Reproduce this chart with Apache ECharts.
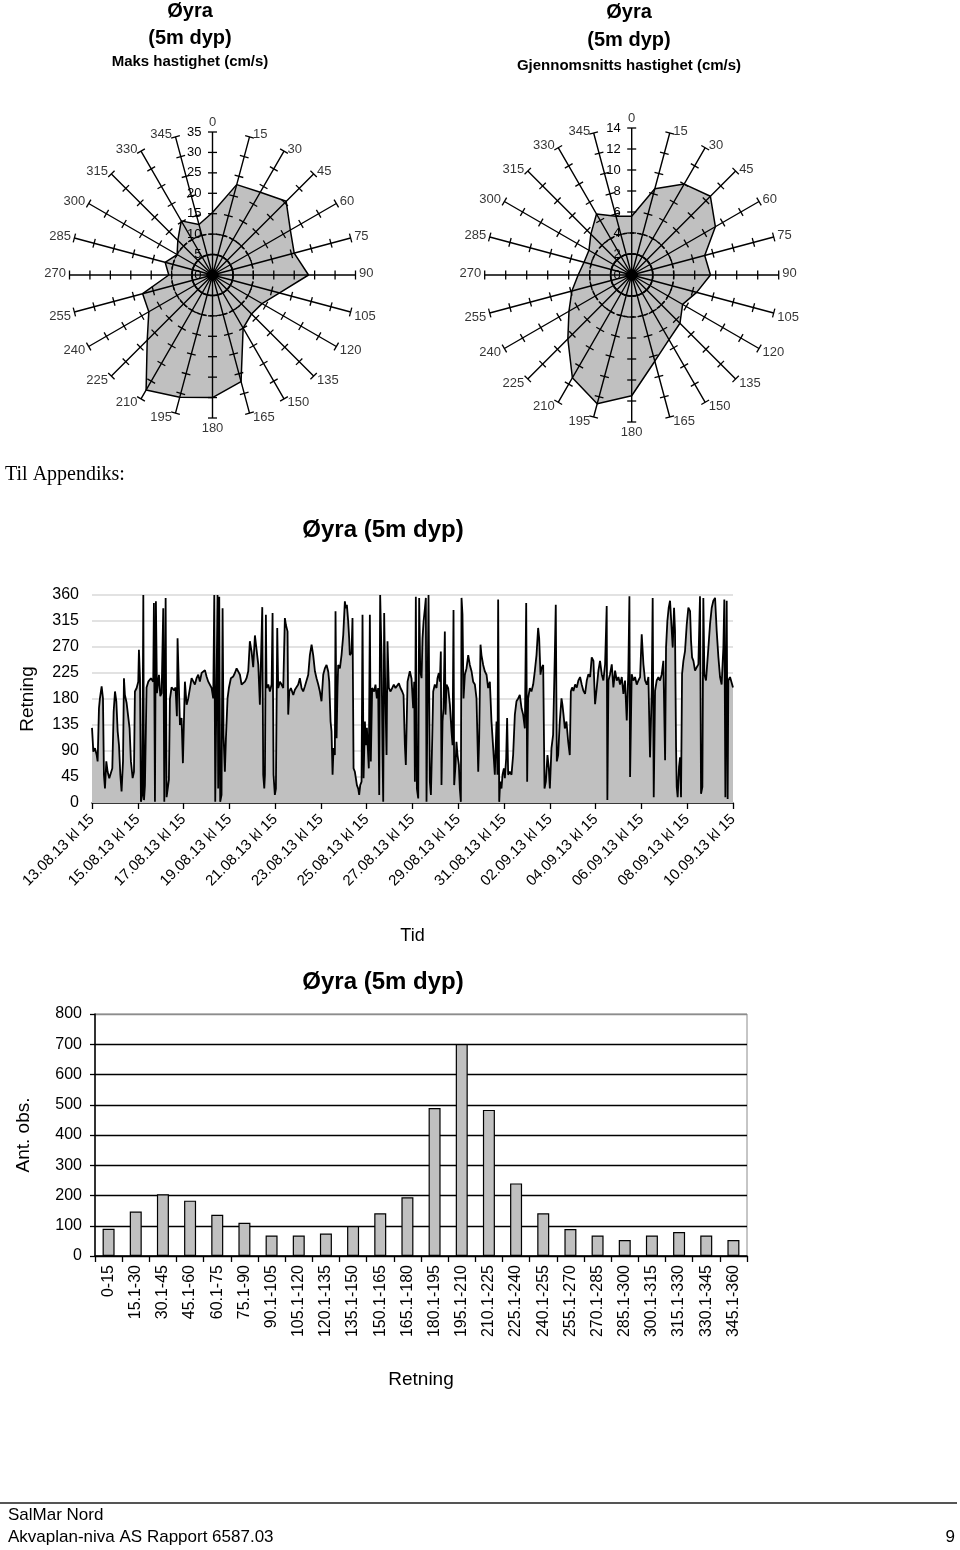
<!DOCTYPE html>
<html><head><meta charset="utf-8">
<script src="https://cdn.jsdelivr.net/npm/echarts@6/dist/echarts.min.js"></script>
<style>html,body{margin:0;padding:0;background:#fff}#c{width:960px;height:1550px}</style>
</head><body><div id="c"></div>
<script>
// ---------- data ----------
const dirAngles = [0,15,30,45,60,75,90,105,120,135,150,165,180,195,210,225,240,255,270,285,300,315,330,345];
const maxSpeed  = [15.3,22.9,23.4,25.5,22.0,20.7,23.5,17.0,14.0,13.5,15.0,27.0,30.0,31.0,32.5,22.6,18.0,17.7,10.7,12.0,10.0,12.0,15.3,12.8];
const meanSpeed = [5.6,8.5,10.0,10.6,9.2,7.2,7.5,6.4,5.6,6.5,7.1,8.5,11.5,12.7,11.3,8.6,6.9,5.9,5.1,4.7,4.7,5.5,6.7,5.8];
const maxTicks  = [5,10,15,20,25,30,35];
const meanTicks = [2,4,6,8,10,12,14];

const dateLabels = ['13.08.13 kl 15','15.08.13 kl 15','17.08.13 kl 15','19.08.13 kl 15','21.08.13 kl 15','23.08.13 kl 15','25.08.13 kl 15','27.08.13 kl 15','29.08.13 kl 15','31.08.13 kl 15','02.09.13 kl 15','04.09.13 kl 15','06.09.13 kl 15','08.09.13 kl 15','10.09.13 kl 15'];
// hours after 13.08.13 kl 15
const tsHours = [0,1.4,3.1,4.9,5.9,7.3,8.3,10.1,11.5,12.5,13.6,15.0,16.4,18.1,19.9,21.3,22.7,24.1,25.5,26.9,28.3,29.7,31.0,32.5,33.5,34.5,36.3,38.0,39.4,40.8,42.6,44.0,45.0,46.8,48.5,49.2,50.3,51.3,52.7,53.8,54.5,55.5,57.2,59.0,61.8,64.2,64.9,66.0,67.0,68.1,70.2,71.6,73.0,74.7,75.8,77.2,78.2,79.3,80.6,81.7,83.4,86.2,87.6,89.0,89.7,92.2,93.9,95.3,97.4,99.2,100.9,102.7,104.4,106.1,107.9,109.6,111.4,113.1,114.9,116.6,118.4,120.1,121.9,123.6,125.4,127.1,128.2,129.2,130.6,131.6,132.3,133.4,134.4,135.8,136.9,137.9,139.3,140.4,142.1,143.5,145.6,148.1,149.8,151.6,153.3,155.1,156.8,158.5,160.3,162.0,163.8,165.5,167.3,169.0,170.8,174.3,176.0,
178.5,179.5,180.6,181.3,182.3,183.0,184.8,186.5,188.3,189.3,190.3,191.7,192.8,194.2,195.2,197.0,198.7,200.5,202.2,203.3,205.0,205.7,206.8,208.5,211.0,212.7,214.4,216.2,217.9,219.7,221.4,223.2,224.9,226.7,228.4,230.2,231.9,233.7,235.4,237.2,238.9,240.6,242.4,244.1,245.9,247.6,248.7,250.1,251.1,252.2,253.2,254.6,255.3,256.4,257.4,258.1,259.9,261.6,263.4,265.1,266.1,267.2,268.6,269.6,270.3,272.1,273.1,274.2,275.6,276.6,277.7,279.1,280.1,281.2,282.6,283.6,284.7,286.1,287.1,288.2,289.5,290.2,291.3,292.3,293.7,295.8,297.2,298.6,300.0,301.1,302.1,303.5,304.6,305.3,306.3,307.4,308.8,309.8,311.2,313.0,314.7,316.4,318.2,319.9,321.7,323.4,325.2,326.6,328.0,329.0,330.8,333.2,335.0,
336.7,337.8,338.5,339.5,340.6,342.0,343.0,344.1,345.5,346.5,347.6,349.0,350.0,350.7,351.8,352.8,353.5,354.2,355.3,356.7,357.7,359.4,361.2,362.2,363.6,364.7,365.7,366.4,367.5,368.5,369.9,370.6,371.7,373.4,375.2,376.9,378.0,379.0,379.7,381.1,382.1,383.2,384.6,385.6,386.7,387.4,388.4,389.5,390.9,392.6,394.4,396.1,397.9,399.6,401.4,403.1,404.9,405.9,407.3,408.3,410.1,411.8,413.6,415.3,417.1,418.8,420.6,422.3,424.1,425.1,425.8,426.9,427.9,429.3,430.4,431.8,432.8,434.2,435.2,436.3,438.0,439.8,441.5,443.3,445.0,446.8,448.5,450.3,452.0,453.8,455.2,456.2,457.2,459.0,460.7,462.5,464.2,466.0,467.7,468.8,470.2,471.2,473.0,474.4,475.8,477.5,478.9,480.0,481.7,483.4,485.2,486.2,487.3,488.7,490.4,492.2,493.2,494.3,495.7,497.4,499.2,500.9,502.0,
503.3,504.7,506.5,508.2,509.9,511.7,513.4,515.2,516.9,518.7,520.4,522.2,523.9,525.7,527.4,529.2,530.9,532.6,534.4,536.1,537.9,538.9,539.6,540.3,541.4,543.1,544.9,546.6,548.4,550.1,551.9,553.6,555.4,557.1,558.8,560.6,562.3,563.4,564.1,565.8,567.6,569.3,571.1,572.8,574.6,576.3,578.1,579.8,581.6,583.3,585.0,586.8,587.8,588.9,590.3,592.0,593.8,595.5,597.3,599.0,600.8,601.8,603.2,604.6,606.0,607.0,608.8,610.2,611.2,612.3,613.0,614.0,615.4,616.5,617.5,618.6,620.0,621.7,623.5,625.2,627.0,628.0,629.1,630.5,632.2,634.0,635.7,637.4,638.5,639.9,640.9,642.0,643.7,646.2,647.9,649.7,651.4,653.2,654.9,656.7,658.4,660.1,661.9,662.9,664.0,665.4,666.4,667.1,668.9,670.6,672];
const tsDir = [130,89,95,83,72,164,181,202,181,49,25,72,54,43,40,60,158,193,176,124,100,49,20,72,216,187,173,170,129,72,43,54,193,199,210,265,216,2,14,360,5,30,200,210,216,210,346,2,349,190,222,185,190,337,2,355,10,8,40,180,200,195,200,150,285,135,147,69,210,170,181,199,216,213,205,216,222,210,225,228,230,219,210,207,199,181,360,2,2,360,25,357,2,14,337,118,54,112,181,199,216,219,225,233,236,222,205,207,210,216,228,280,262,235,290,240,170,
339,49,25,49,326,199,205,193,205,329,49,14,25,303,199,210,205,199,320,308,297,153,193,199,187,196,193,205,216,199,193,202,205,222,256,274,256,228,216,205,193,176,222,233,239,228,210,141,124,49,95,83,332,112,199,239,233,256,291,349,337,343,314,285,256,260,320,60,54,43,31,25,14,31,37,326,43,141,100,130,83,60,326,72,199,193,205,181,199,14,360,256,83,2,329,199,83,280,199,193,199,205,199,202,207,199,193,187,100,66,210,228,215,
164,210,37,357,25,8,355,228,216,285,314,337,355,2,2,360,360,37,14,112,193,205,199,216,225,210,262,31,141,164,297,153,205,199,170,124,100,334,31,66,106,83,66,25,2,355,326,181,222,233,256,239,228,210,205,181,54,112,274,256,239,228,222,199,210,141,95,49,141,49,352,2,37,25,49,60,43,77,147,49,54,49,83,153,176,181,187,164,153,129,346,37,181,199,193,205,228,256,303,285,222,233,239,25,37,83,60,25,95,118,256,343,72,83,141,181,170,153,129,141,106,83,193,
200,194,205,200,212,218,205,194,189,212,223,218,252,246,171,200,229,246,223,212,240,298,341,5,212,223,240,200,229,212,218,205,218,189,212,143,229,358,45,223,212,218,205,212,218,292,240,212,205,218,79,194,355,10,194,212,218,212,223,246,74,269,315,338,350,321,269,338,298,97,28,10,62,79,10,223,246,263,309,338,332,281,252,246,229,235,240,358,16,28,355,223,212,269,309,338,350,355,298,252,218,205,269,352,10,350,7,212,218,218,200];

const binLabels = ['0-15','15.1-30','30.1-45','45.1-60','60.1-75','75.1-90','90.1-105','105.1-120','120.1-135','135.1-150','150.1-165','165.1-180','180.1-195','195.1-210','210.1-225','225.1-240','240.1-255','255.1-270','270.1-285','285.1-300','300.1-315','315.1-330','330.1-345','345.1-360'];
const binCounts = [90,147,204,183,136,110,68,68,74,99,141,194,489,701,483,240,141,89,68,53,68,79,68,53];

// ---------- helpers ----------
const FONT = '"Liberation Sans", Arial, Helvetica, sans-serif';

function tickItem(params, api) {
  const r = api.value(0), a = api.value(1);
  const p = api.coord([r, a]);
  const c = api.coord([0, a]);
  let dx = p[0] - c[0], dy = p[1] - c[1];
  const len = Math.hypot(dx, dy) || 1; dx /= len; dy /= len;
  const L = 4.5;
  return { type: 'line',
    shape: { x1: p[0] - dy * L, y1: p[1] + dx * L, x2: p[0] + dy * L, y2: p[1] - dx * L },
    style: { stroke: '#000', lineWidth: 1.3 } };
}
function ringItem(params, api) {
  const r = api.value(0);
  const c = api.coord([0, 0]);
  const p = api.coord([r, 0]);
  const R = Math.hypot(p[0] - c[0], p[1] - c[1]);
  return { type: 'circle', shape: { cx: c[0], cy: c[1], r: R },
    style: { fill: null, stroke: '#000', lineWidth: 1.4, lineDash: api.value(2) ? [4, 3] : null } };
}
function radarSeries(pi, vals, ticks) {
  const rMax = ticks[ticks.length - 1];
  const poly = dirAngles.map((a, i) => [vals[i], a]);
  poly.push([vals[0], 360]);
  const tickData = [];
  dirAngles.forEach(a => ticks.forEach(t => tickData.push([t, a])));
  const labelData = dirAngles.map(a => ({
    value: [rMax, a],
    label: {
      position: a === 0 ? 'top' : a === 180 ? 'bottom' : a < 180 ? 'right' : 'left',
      offset: (a > 90 && a < 270 && a !== 180) ? [0, 4] : (a === 0 || a === 180 ? [0, 0] : [0, -2])
    }
  }));
  return [
    { type: 'line', coordinateSystem: 'polar', polarIndex: pi, z: 1, data: poly,
      symbol: 'none', lineStyle: { color: '#000', width: 1.5 },
      areaStyle: { color: '#c0c0c0', opacity: 1 }, silent: true },
    { type: 'custom', coordinateSystem: 'polar', polarIndex: pi, z: 4, data: tickData,
      renderItem: tickItem, silent: true },
    { type: 'custom', coordinateSystem: 'polar', polarIndex: pi, z: 4,
      data: [[ticks[0], 0, 0], [ticks[1], 0, 1]], renderItem: ringItem, silent: true },
    { type: 'scatter', coordinateSystem: 'polar', polarIndex: pi, z: 5, data: labelData,
      symbolSize: 1, itemStyle: { color: 'rgba(0,0,0,0)' }, silent: true,
      label: { show: true, formatter: p => String(p.value[1]), distance: 3,
        fontSize: 13, fontFamily: FONT, color: '#000' } }
  ];
}
function angleAx(pi) {
  return { polarIndex: pi, type: 'value', min: 0, max: 360, interval: 15, startAngle: 90, clockwise: true, z: 3,
    axisLine: { show: false }, axisTick: { show: false }, axisLabel: { show: false },
    splitLine: { show: true, lineStyle: { color: '#000', width: 1.4 } } };
}
function radiusAx(pi, max, step) {
  return { polarIndex: pi, type: 'value', min: 0, max: max, interval: step, z: 3,
    axisLine: { show: false }, axisTick: { show: false }, splitLine: { show: false },
    axisLabel: { show: true, fontSize: 13, fontFamily: FONT, color: '#000', margin: 11 } };
}
function txt(text, x, y, size, opts) {
  opts = opts || {};
  return { type: 'text', x: x, y: y, rotation: opts.rot || 0, z: 10,
    style: { text: text, fill: '#000', align: opts.align || 'center', verticalAlign: 'middle',
      font: (opts.bold ? 'bold ' : '') + size + 'px ' + (opts.family || FONT) } };
}

// ---------- option ----------
const chart = echarts.init(document.getElementById('c'), null, { renderer: 'canvas' });
const option = {
  animation: false,
  backgroundColor: '#fff',
  polar: [
    { center: [212.5, 275], radius: 143 },
    { center: [631.7, 275], radius: 147 }
  ],
  angleAxis: [angleAx(0), angleAx(1)],
  radiusAxis: [radiusAx(0, 35, 5), radiusAx(1, 14, 2)],
  grid: [
    { left: 92, top: 595, width: 641, height: 208 },
    { left: 95, top: 1014, width: 652, height: 242, show: true, borderColor: '#8c8c8c', borderWidth: 1 }
  ],
  xAxis: [
    { gridIndex: 0, type: 'value', min: 0, max: 672, interval: 48,
      axisLine: { lineStyle: { color: '#000', width: 1.5 } },
      axisTick: { show: true, length: 6, lineStyle: { color: '#000', width: 1.3 } },
      splitLine: { show: false },
      axisLabel: { rotate: 45, fontSize: 15, fontFamily: FONT, color: '#000', margin: 14,
        showMaxLabel: true, showMinLabel: true,
        formatter: v => dateLabels[Math.round(v / 48)] || '' },
      name: 'Tid', nameLocation: 'middle', nameGap: 124,
      nameTextStyle: { fontSize: 18, fontFamily: FONT, color: '#000' } },
    { gridIndex: 1, type: 'category', data: binLabels, boundaryGap: true,
      axisLine: { lineStyle: { color: '#000', width: 1.5 } },
      axisTick: { show: true, interval: 0, length: 6, lineStyle: { color: '#000', width: 1.3 } },
      axisLabel: { rotate: 90, interval: 0, fontSize: 16, fontFamily: FONT, color: '#000', margin: 9 },
      name: 'Retning', nameLocation: 'middle', nameGap: 114,
      nameTextStyle: { fontSize: 19, fontFamily: FONT, color: '#000' } }
  ],
  yAxis: [
    { gridIndex: 0, type: 'value', min: 0, max: 360, interval: 45,
      axisLine: { show: false }, axisTick: { show: false },
      splitLine: { show: true, lineStyle: { color: '#d9d9d9', width: 1.5 } },
      axisLabel: { fontSize: 16, fontFamily: FONT, color: '#000', margin: 13 },
      name: 'Retning', nameLocation: 'middle', nameGap: 55,
      nameTextStyle: { fontSize: 19, fontFamily: FONT, color: '#000' } },
    { gridIndex: 1, type: 'value', min: 0, max: 800, interval: 100,
      axisLine: { show: true, lineStyle: { color: '#000', width: 1.5 } },
      axisTick: { show: true, length: 5, lineStyle: { color: '#000', width: 1.3 } },
      splitLine: { show: true, lineStyle: { color: ['#000','#000','#000','#000','#000','#000','#000','#000','#8c8c8c'], width: 1.3 } },
      axisLabel: { fontSize: 16, fontFamily: FONT, color: '#000', margin: 13 },
      name: 'Ant. obs.', nameLocation: 'middle', nameGap: 62,
      nameTextStyle: { fontSize: 19, fontFamily: FONT, color: '#000' } }
  ],
  series: [].concat(
    radarSeries(0, maxSpeed, maxTicks),
    radarSeries(1, meanSpeed, meanTicks),
    [
      { type: 'line', xAxisIndex: 0, yAxisIndex: 0, data: tsHours.map((h, i) => [h, tsDir[i]]),
        showSymbol: false, symbol: 'none', lineStyle: { color: '#000', width: 1.8 },
        areaStyle: { color: '#c0c0c0', opacity: 1 }, silent: true },
      { type: 'bar', xAxisIndex: 1, yAxisIndex: 1, data: binCounts, barWidth: 12,
        itemStyle: { color: '#c0c0c0', borderColor: '#000', borderWidth: 1.2 }, silent: true }
    ]
  ),
  graphic: [
    txt('Øyra', 190, 11, 20, { bold: true }),
    txt('(5m dyp)', 190, 38, 20, { bold: true }),
    txt('Maks hastighet (cm/s)', 190, 62, 15, { bold: true }),
    txt('Øyra', 629, 12, 20, { bold: true }),
    txt('(5m dyp)', 629, 40, 20, { bold: true }),
    txt('Gjennomsnitts hastighet (cm/s)', 629, 66, 15, { bold: true }),
    txt('Til Appendiks:', 5, 475, 20, { align: 'left', family: '"Liberation Serif", "Times New Roman", serif' }),
    txt('Øyra (5m dyp)', 383, 530, 24, { bold: true }),
    txt('Øyra (5m dyp)', 383, 982, 24, { bold: true }),
    { type: 'line', z: 10, shape: { x1: 0, y1: 1503, x2: 957, y2: 1503 }, style: { stroke: '#555', lineWidth: 2 } },
    txt('SalMar Nord', 8, 1515, 17, { align: 'left' }),
    txt('Akvaplan-niva AS Rapport 6587.03', 8, 1537, 17, { align: 'left' }),
    txt('9', 955, 1537, 17, { align: 'right' })
  ]
};
chart.setOption(option);
</script>
</body></html>
